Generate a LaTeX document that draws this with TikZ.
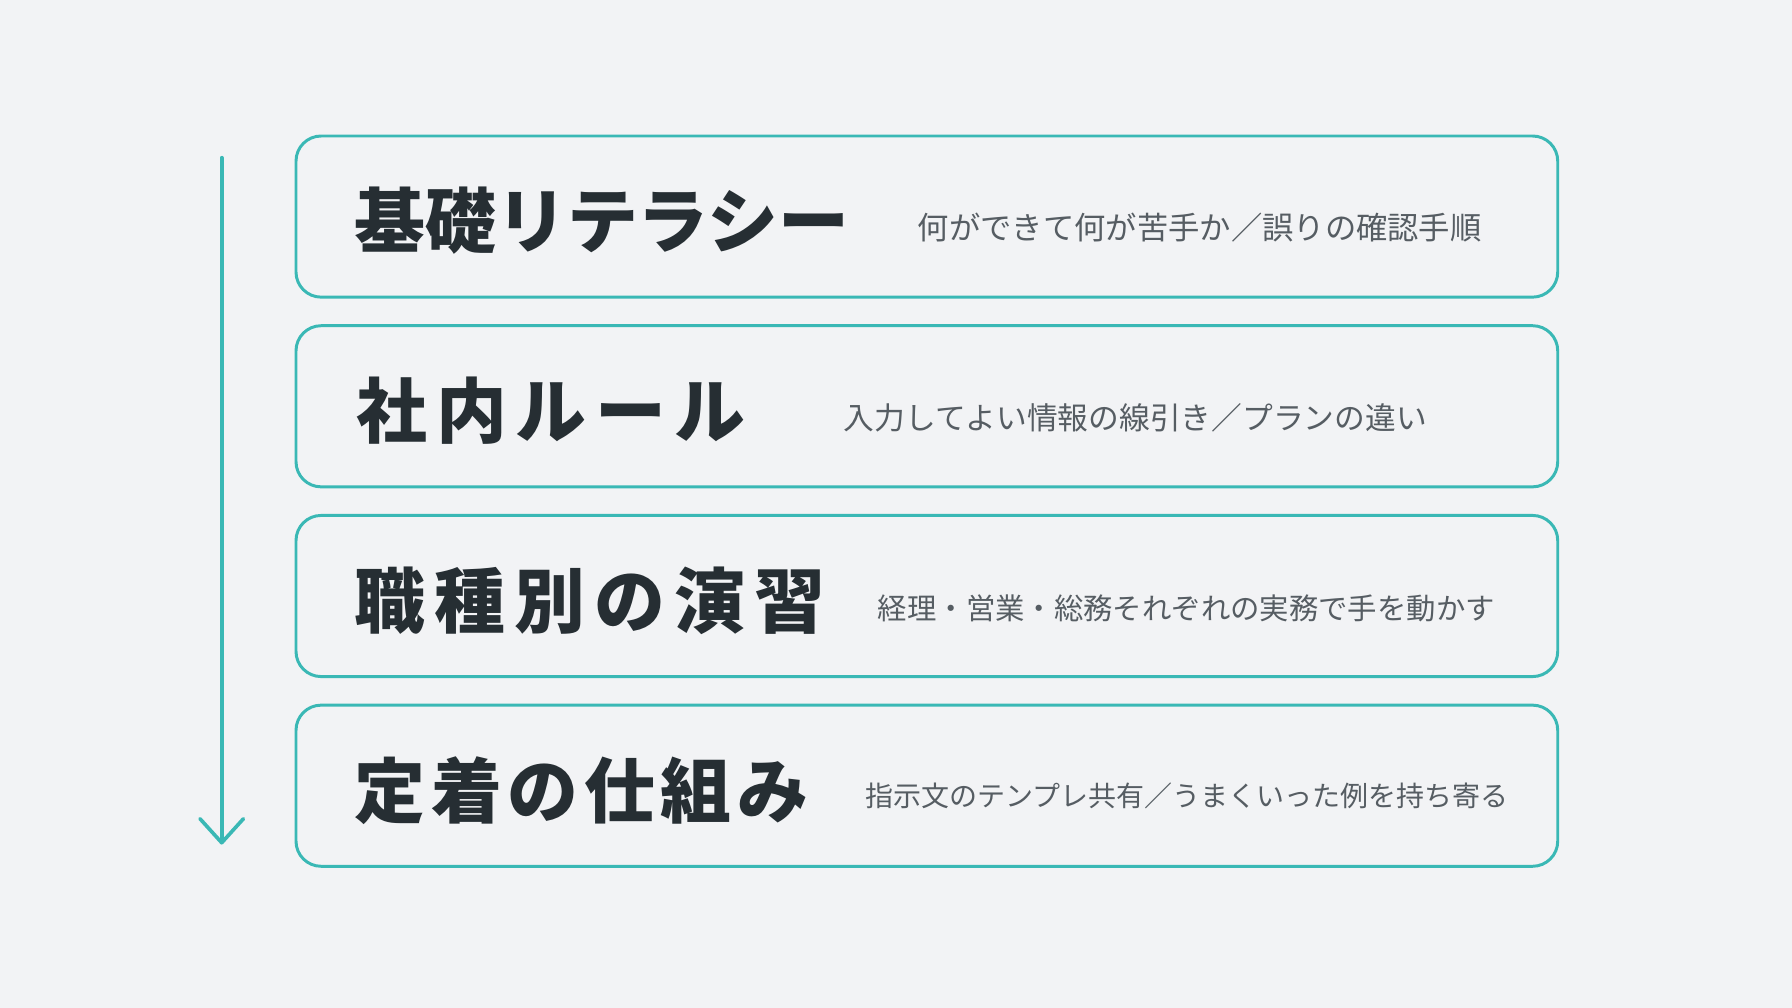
\documentclass[tikz,border=0pt]{standalone}
\usepackage{fontspec}
\usetikzlibrary{arrows.meta}
\newfontfamily\cjk{Noto Sans CJK JP}
\definecolor{bgc}{HTML}{F2F3F5}
\definecolor{teal}{HTML}{3AB8B5}
\definecolor{ttl}{HTML}{262E33}
\definecolor{sub}{HTML}{565D63}
\tikzset{
  stagebox/.style={draw=teal, line width=2.6pt, rounded corners=22pt, fill=bgc,
    minimum width=1104pt, minimum height=141pt, inner sep=0pt},
  ttltext/.style={anchor=base west, inner sep=0pt, text=ttl, font=\cjk\bfseries\fontsize{62}{70}\selectfont},
  subtext/.style={anchor=base west, inner sep=0pt, text=sub},
  flow/.style={draw=teal, line width=3.2pt, line cap=round,
    -{Straight Barb[length=21pt,width=38pt,line width=3.2pt,round]}}
}
\begin{document}
\begin{tikzpicture}[x=1pt,y=-1pt]
\fill[bgc] (0,0) rectangle (1568,882);
\useasboundingbox (0,0) rectangle (1568,882);
% arrow
\coordinate (astart) at (194,138);
\coordinate (aend) at (194,739);
\draw[flow] (astart) -- (aend);
% boxes
\node[stagebox] (b1) at (811,189.5) {};
\node[stagebox] (b2) at (811,355.5) {};
\node[stagebox] (b3) at (811,521.5) {};
\node[stagebox] (b4) at (811,687.5) {};
% titles
\node[ttltext] (t1) at (310,217) {基礎リテラシー};
\node[ttltext] (t2) at (312,383) {社\kern7.5pt 内\kern7.5pt ル\kern7.5pt ー\kern7.5pt ル};
\node[ttltext] (t3) at (310,549) {職\kern8pt 種\kern8pt 別\kern8pt の\kern8pt 演\kern8pt 習};
\node[ttltext] (t4) at (310,715) {定\kern5pt 着\kern5pt の\kern5pt 仕\kern5pt 組\kern5pt み};
% subtitles
\node[subtext, font=\cjk\fontsize{27.4}{32}\selectfont] (s1) at (803,210) {何ができて何が苦手か／誤りの確認手順};
\node[subtext, font=\cjk\fontsize{26.9}{32}\selectfont] (s2) at (738,376) {入力してよい情報の線引き／プランの違い};
\node[subtext, font=\cjk\fontsize{25.7}{32}\selectfont] (s3) at (768,542) {経理・営業・総務それぞれの実務で手を動かす};
\node[subtext, font=\cjk\fontsize{24.5}{32}\selectfont] (s4) at (757,706) {指示文のテンプレ共有／うまくいった例を持ち寄る};
\end{tikzpicture}
\end{document}
